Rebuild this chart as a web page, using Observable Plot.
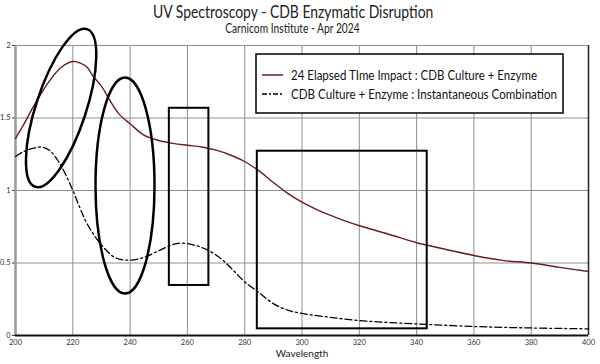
<!DOCTYPE html>
<html>
<head>
<meta charset="utf-8">
<script src="https://cdn.jsdelivr.net/npm/d3@7"></script>
<script src="https://cdn.jsdelivr.net/npm/@observablehq/plot@0.6"></script>
<style>
  body { margin: 0; background: #fff; width: 600px; overflow: hidden; }
  #head { position: relative; height: 36px; font-family: Lato, "Open Sans", sans-serif; color: #222; }
  #title { position: absolute; left: 0; width: 600px; top: 3px; text-align: center; font-size: 17px; line-height: 18px; transform: scaleX(0.82); transform-origin: 262px 0; }
  #subtitle { position: absolute; left: 0; width: 600px; top: 22px; text-align: center; font-size: 12.5px; line-height: 14px; transform: scaleX(0.82); transform-origin: 258px 0; }
  #chart svg { overflow: visible; }
</style>
</head>
<body>
<div id="head">
  <div id="title">UV Spectroscopy - CDB Enzymatic Disruption</div>
  <div id="subtitle">Carnicom Institute - Apr 2024</div>
</div>
<div id="chart"></div>
<script>
// ---- data ----
const seriesNames = [
  "24 Elapsed TIme Impact : CDB Culture + Enzyme",
  "CDB Culture + Enzyme : Instantaneous Combination"
];
const wavelengthElapsed = [200, 203, 206, 209, 212, 216, 220, 223, 225, 227, 230, 233, 236, 240, 245, 250, 255, 260, 265, 270, 275, 280, 285, 290, 295, 300, 305, 310, 315, 320, 330, 340, 350, 360, 370, 380, 390, 400];
const elapsed24 =         [1.36, 1.46, 1.57, 1.67, 1.76, 1.85, 1.89, 1.875, 1.85, 1.79, 1.72, 1.62, 1.53, 1.46, 1.38, 1.345, 1.325, 1.312, 1.30, 1.278, 1.245, 1.20, 1.135, 1.055, 0.98, 0.92, 0.87, 0.828, 0.79, 0.757, 0.70, 0.64, 0.595, 0.552, 0.518, 0.50, 0.47, 0.441];
const wavelengthInstant = [200, 203, 206, 209, 212, 215, 218, 220, 222.5, 225, 230, 235, 240, 245, 250, 255, 258, 262, 267, 272, 276, 280, 285, 290, 295, 300, 310, 320, 330, 340, 360, 380, 400];
const instantaneous =     [1.235, 1.27, 1.29, 1.30, 1.275, 1.20, 1.09, 1.00, 0.88, 0.77, 0.625, 0.535, 0.52, 0.54, 0.585, 0.628, 0.637, 0.625, 0.59, 0.525, 0.45, 0.37, 0.295, 0.22, 0.175, 0.152, 0.125, 0.103, 0.09, 0.08, 0.062, 0.052, 0.046];
const xTicks = [200, 220, 240, 260, 280, 300, 320, 340, 360, 380, 400];
const yTicks = [0, 0.5, 1, 1.5, 2];
const xLabel = "Wavelength";
// hand-drawn annotation marks (data coordinates)
const boxes = [
  {x1: 253.7, x2: 267.5, y1: 0.345, y2: 1.567},
  {x1: 284.4, x2: 343.7, y1: 0.046, y2: 1.271}
];
const ovals = [
  {cx: 216.1, cy: 1.566, rx: 83, ry: 25, angle: -71.8},
  {cx: 238.4, cy: 1.031, rx: 29.5, ry: 108, angle: 0}
];

const elapsedData = wavelengthElapsed.map((w, i) => ({w, v: elapsed24[i]}));
const instantData = wavelengthInstant.map((w, i) => ({w, v: instantaneous[i]}));

const solidColor = "#6b1d1d";
const dashPattern = "7 3 2 3";

function ovalMark(index, scales, values, dimensions) {
  const g = d3.create("svg:g");
  for (const o of ovals) {
    const px = scales.x(o.cx), py = scales.y(o.cy);
    g.append("ellipse")
      .attr("cx", px).attr("cy", py)
      .attr("rx", o.rx).attr("ry", o.ry)
      .attr("transform", `rotate(${o.angle} ${px} ${py})`)
      .attr("fill", "none").attr("stroke", "#000").attr("stroke-width", 2.5);
  }
  return g.node();
}

function legendMark(index, scales, values, dimensions) {
  const left = dimensions.marginLeft + 241, top = dimensions.marginTop + 9;
  const g = d3.create("svg:g")
    .attr("font-family", "Lato, 'Open Sans', sans-serif")
    .attr("text-anchor", "start");
  g.append("rect").attr("x", left).attr("y", top).attr("width", 307).attr("height", 59)
    .attr("fill", "#fff").attr("stroke", "#000").attr("stroke-width", 1.5);
  const rows = [
    {name: seriesNames[0], color: solidColor, dash: null, len: 246},
    {name: seriesNames[1], color: "#000", dash: "5 2 2 2", len: 266}
  ];
  rows.forEach((r, i) => {
    const y = top + 21 + i * 19;
    const line = g.append("line").attr("x1", left + 6).attr("x2", left + 27)
      .attr("y1", y).attr("y2", y).attr("stroke", r.color).attr("stroke-width", 1.5);
    if (r.dash) line.attr("stroke-dasharray", r.dash);
    g.append("text").attr("x", left + 35).attr("y", y).attr("dy", "0.35em")
      .attr("text-anchor", "start")
      .attr("font-size", 13.5).attr("fill", "#111")
      .attr("textLength", r.len).attr("lengthAdjust", "spacingAndGlyphs")
      .text(r.name);
  });
  return g.node();
}

const plot = Plot.plot({
  width: 600,
  height: 328,
  marginTop: 9,
  marginBottom: 29,
  marginLeft: 15,
  marginRight: 12,
  style: {fontFamily: "Lato, 'Open Sans', sans-serif", fontSize: "7.5px", background: "#fff", color: "#333", overflow: "visible"},
  x: {domain: [200, 400], ticks: xTicks, tickFormat: d => String(d), tickSize: 0, tickPadding: 4, label: null},
  y: {domain: [0, 2], ticks: yTicks, tickFormat: d => String(d), tickSize: 3, tickPadding: 2, label: null},
  marks: [
    Plot.ruleX(xTicks, {stroke: "#8f8f8f", strokeWidth: 1}),
    Plot.ruleY(yTicks, {stroke: "#8f8f8f", strokeWidth: 1}),
    Plot.ruleX([400], {stroke: "#222", strokeWidth: 1.5}),
    Plot.ruleX([200], {stroke: "#9a9a9a", strokeWidth: 2.5}),
    Plot.ruleY([0], {stroke: "#111", strokeWidth: 2}),
    Plot.line(elapsedData, {x: "w", y: "v", stroke: solidColor, strokeWidth: 1.4, curve: "catmull-rom"}),
    Plot.line(instantData, {x: "w", y: "v", stroke: "#000", strokeWidth: 1.3, strokeDasharray: dashPattern, curve: "catmull-rom"}),
    Plot.rect(boxes, {x1: "x1", x2: "x2", y1: "y1", y2: "y2", fill: "none", stroke: "#000", strokeWidth: 2}),
    ovalMark,
    legendMark,
    Plot.text([xLabel], {frameAnchor: "bottom", dy: 21, fontSize: 10, fill: "#222"})
  ]
});
document.getElementById("chart").appendChild(plot);
</script>
</body>
</html>
